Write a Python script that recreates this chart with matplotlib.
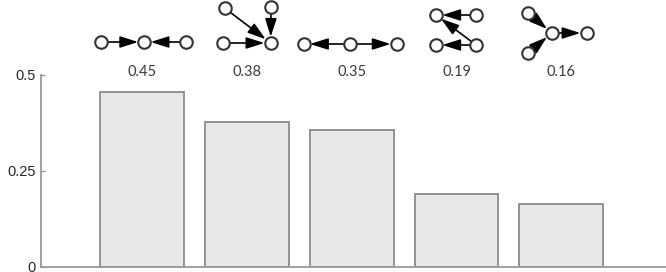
import matplotlib
matplotlib.use("Agg")
import matplotlib.pyplot as plt
from matplotlib.transforms import Affine2D, ScaledTranslation

# bar data
positions = [1, 2, 3, 4, 5]
values = [0.455, 0.378, 0.357, 0.190, 0.163]
motif_labels = ["0.45", "0.38", "0.35", "0.19", "0.16"]

# motif graphs: node offsets (pixels from bar centre / top of axis) and directed edges
motif_nodes = [
    [(-41, 33), (2, 33), (44, 33)],
    [(-24, 32), (23.5, 32), (-22.5, 67), (24, 68)],
    [(-48, 31), (-2, 31), (45, 31)],
    [(-20.5, 60), (19.5, 60), (-20.5, 30), (19.5, 30)],
    [(-33, 62), (-9.6, 42), (25.4, 42), (-33, 22)],
]
motif_edges = [
    [(0, 1), (2, 1)],
    [(0, 1), (2, 1), (3, 1)],
    [(1, 0), (1, 2)],
    [(1, 0), (3, 0), (3, 2)],
    [(0, 1), (3, 1), (1, 2)],
]

fig = plt.figure(figsize=(6.66, 2.72), dpi=100)
ax = fig.add_axes([41 / 666, 5 / 272, 625 / 666, 192 / 272])

ax.bar(positions, values, width=0.8, color="#e8e8e8", edgecolor="#8c8c8c",
       linewidth=1.3, zorder=2)

ax.set_xlim(0.032, 6.0)
ax.set_ylim(0, 0.5)
ax.set_yticks([0, 0.25, 0.5])
ax.set_yticklabels(["0", "0.25", "0.5"], fontfamily="Liberation Sans",
                   fontsize=10.5, color="#262626")
ax.set_xticks([])
ax.tick_params(axis="y", direction="in", length=3, width=1, color="#999999", pad=4)
for side in ["top", "right"]:
    ax.spines[side].set_visible(False)
for side in ["left", "bottom"]:
    ax.spines[side].set_color("#999999")
    ax.spines[side].set_linewidth(1.3)

# motifs above the bars
for pos, label, nodes, edges in zip(positions, motif_labels, motif_nodes, motif_edges):
    trans = Affine2D() + ScaledTranslation(pos, 0.5, ax.transData)
    for a, b in edges:
        ax.annotate("", xy=nodes[b], xytext=nodes[a], xycoords=trans,
                    textcoords=trans, annotation_clip=False,
                    arrowprops=dict(arrowstyle="-|>,head_length=1.1,head_width=0.35",
                                    mutation_scale=10, shrinkA=4.5, shrinkB=4.5,
                                    lw=1.2, color="black"))
    xs = [n[0] for n in nodes]
    ys = [n[1] for n in nodes]
    ax.plot(xs, ys, "o", transform=trans, clip_on=False, ms=9,
            mfc="white", mec="#333333", mew=1.5, zorder=5)
    ax.annotate(label, xy=(pos, 0.5), xytext=(0, 3), textcoords="offset pixels",
                ha="center", va="center", fontfamily="Lato", fontsize=10.5,
                color="#3a3a3a", annotation_clip=False)

fig.savefig("out.png", dpi=100)
